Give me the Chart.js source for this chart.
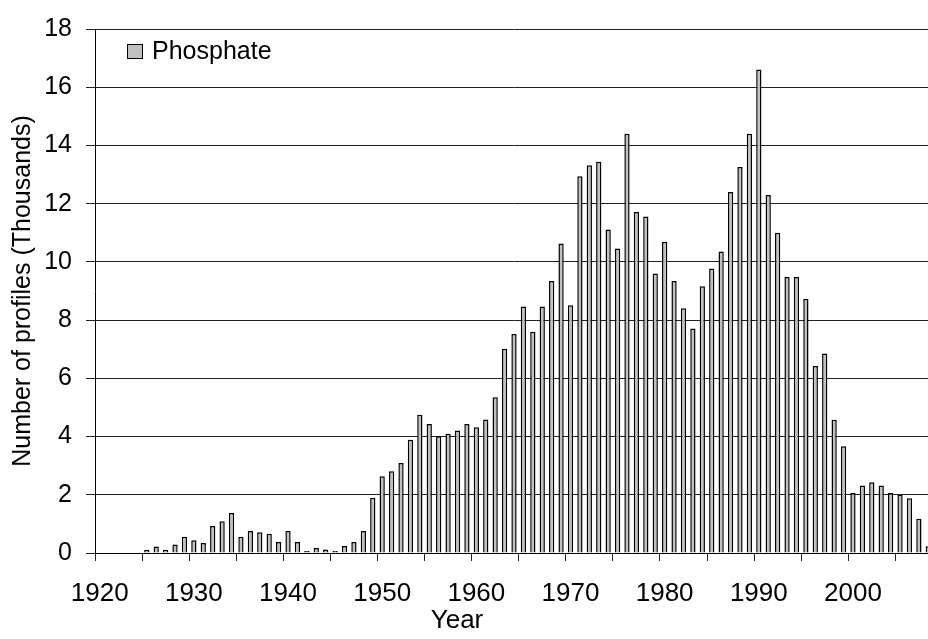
<!DOCTYPE html>
<html>
<head>
<meta charset="utf-8">
<script src="https://cdn.jsdelivr.net/npm/chart.js@4.4.0/dist/chart.umd.min.js"></script>
<style>
  html, body { margin: 0; padding: 0; background: #fff; overflow: hidden; }
  #wrap { width: 940px; height: 639px; }
</style>
</head>
<body>
<div id="wrap"><canvas id="myChart" width="940" height="639"></canvas></div>
<script>
// years on the category axis
var years = [];
for (var y = 1920; y <= 2008; y++) years.push(y);

// number of phosphate profiles per year (thousands)
var phosphate = [
    null, null, null, null, null,
    0.11, 0.22, 0.11, 0.29, 0.56, 0.44, 0.34, 0.93, 1.09, 1.37,
    0.56, 0.76, 0.71, 0.66, 0.38, 0.76, 0.38, 0.07, 0.17, 0.12,
    0.07, 0.24, 0.38, 0.76, 1.90,
    2.64, 2.81, 3.09, 3.89, 4.75, 4.43, 4.01, 4.10, 4.21, 4.43,
    4.32, 4.59, 5.35, 7.02, 7.52, 8.47, 7.60, 8.47, 9.34, 10.63,
    8.51, 12.94, 13.32, 13.44, 11.11, 10.46, 14.40, 11.71, 11.56, 9.60,
    10.69, 9.34, 8.41, 7.71, 9.16, 9.77, 10.36, 12.40, 13.26, 14.40,
    16.61, 12.30, 11.00, 9.48, 9.48, 8.73, 6.42, 6.85, 4.58, 3.67,
    2.06, 2.32, 2.43, 2.32, 2.06, 2.00, 1.88, 1.18, 0.23
];

// labelled years on the x axis and y axis range
var labelYears = [1920, 1930, 1940, 1950, 1960, 1970, 1980, 1990, 2000];
var yMax = 18;
var yStep = 2;

var FONT = 'Liberation Sans, Arial, sans-serif';

// legend box drawn inside the plot, plus the x axis title
var extras = {
    id: 'extras',
    afterDraw: function (chart) {
        var c = chart.ctx;
        var ds = chart.data.datasets[0];
        c.save();
        c.fillStyle = ds.backgroundColor;
        c.fillRect(127.5, 44.5, 15, 14);
        c.strokeStyle = '#000';
        c.lineWidth = 1;
        c.strokeRect(127.5, 44.5, 15, 14);
        c.fillStyle = '#000';
        c.font = '25px ' + FONT;
        c.textBaseline = 'alphabetic';
        c.textAlign = 'left';
        c.fillText(ds.label, 152, 59);
        c.font = '26px ' + FONT;
        c.textAlign = 'center';
        c.fillText('Year', 457, 628);
        c.restore();
    }
};

var ctx = document.getElementById('myChart').getContext('2d');
var myChart = new Chart(ctx, {
    type: 'bar',
    data: {
        labels: years,
        datasets: [{
            label: 'Phosphate',
            data: phosphate,
            backgroundColor: '#c0c0c0',
            borderColor: '#000',
            borderWidth: 1.5,
            barPercentage: 0.56,
            categoryPercentage: 1.0
        }]
    },
    options: {
        responsive: false,
        animation: false,
        layout: { padding: { top: 19, right: 7, bottom: 0, left: 0 } },
        plugins: {
            legend: { display: false },
            tooltip: { enabled: false }
        },
        scales: {
            x: {
                offset: true,
                afterFit: function (scale) {
                    scale.height = 86;
                    scale.paddingLeft = 0;
                    scale.paddingRight = 0;
                },
                grid: {
                    offset: true,
                    drawOnChartArea: false,
                    tickLength: 8,
                    color: function (c) { return c.index % 5 === 0 ? '#222' : 'rgba(0,0,0,0)'; }
                },
                border: { color: '#000', width: 1 },
                ticks: {
                    autoSkip: false,
                    maxRotation: 0,
                    minRotation: 0,
                    padding: 17,
                    color: '#000',
                    font: { family: FONT, size: 26 },
                    callback: function (v, i) {
                        var yr = years[i];
                        return labelYears.indexOf(yr) >= 0 ? String(yr) : '';
                    }
                }
            },
            y: {
                min: 0,
                max: yMax,
                afterFit: function (scale) { scale.width = 95; },
                grid: { color: '#222', tickLength: 9 },
                border: { color: '#000', width: 1 },
                ticks: {
                    stepSize: yStep,
                    padding: 14,
                    color: '#000',
                    font: { family: FONT, size: 25 }
                },
                title: {
                    display: true,
                    text: 'Number of profiles (Thousands)',
                    color: '#000',
                    font: { family: FONT, size: 25 },
                    padding: { top: 8, bottom: 0 }
                }
            }
        }
    },
    plugins: [extras]
});
</script>
</body>
</html>
